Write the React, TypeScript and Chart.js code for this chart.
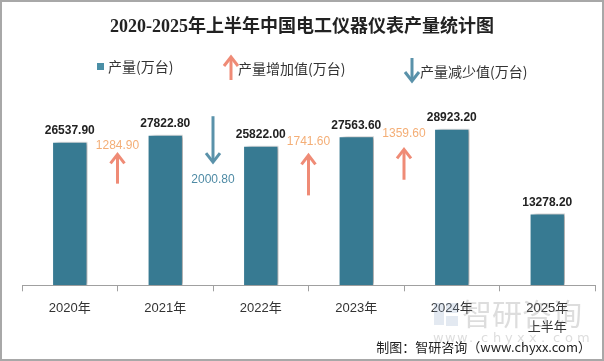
import React, { useEffect, useRef } from "react";
import { Chart, registerables } from "chart.js";

Chart.register(...registerables);

const titleText = "2020-2025年上半年中国电工仪器仪表产量统计图";
const categories: (string | string[])[] = ["2020年", "2021年", "2022年", "2023年", "2024年", ["2025年", "上半年"]];
const production = [26537.9, 27822.8, 25822.0, 27563.6, 28923.2, 13278.2];
// year-over-year changes between consecutive full years (positive = increase)
const changes = [1284.9, -2000.8, 1741.6, 1359.6];
// annotation anchors (data units) for change labels and arrows
const changeLabelAt = [25895, 19570, 26563, 28008];
const arrowStartAt = [18793, 31261, 16624, 19516];
const arrowEndAt = [24214, 22768, 24033, 25117];

const legendLabels = ["产量(万台)", "产量增加值(万台)", "产量减少值(万台)"];
const creditText = "制图：智研咨询（www.chyxx.com）";

const BAR = "#377A92";
const UP = "#EF8B76";
const UP_TEXT = "#F4AE76";
const DOWN = "#5A92AA";
const DOWN_TEXT = "#4F8BA5";

function drawArrow(ctx: CanvasRenderingContext2D, x: number, y0: number, y1: number, color: string, w = 3) {
  const dir = y1 > y0 ? 1 : -1;
  ctx.save();
  ctx.strokeStyle = color;
  ctx.lineWidth = w;
  ctx.lineCap = "butt";
  ctx.beginPath();
  ctx.moveTo(x, y0);
  ctx.lineTo(x, y1 - dir * 1);
  ctx.stroke();
  ctx.beginPath();
  ctx.moveTo(x - 7, y1 - dir * 9);
  ctx.lineTo(x, y1);
  ctx.lineTo(x + 7, y1 - dir * 9);
  ctx.stroke();
  ctx.restore();
}

const decorPlugin = {
  id: "decor",
  beforeDatasetsDraw(chart: any) {
    const ctx = chart.ctx;
    ctx.save();
    ctx.shadowColor = "rgba(0,0,0,0.35)";
    ctx.shadowOffsetX = 4;
    ctx.shadowOffsetY = 0;
    ctx.shadowBlur = 4;
  },
  afterDatasetsDraw(chart: any) {
    const ctx = chart.ctx;
    ctx.restore();
    const meta = chart.getDatasetMeta(0);
    const x = chart.scales.x;
    const y = chart.scales.y;
    ctx.save();
    // value labels
    ctx.font = "bold 12px 'Liberation Sans', Arial, sans-serif";
    ctx.fillStyle = "#222";
    ctx.textAlign = "center";
    ctx.textBaseline = "bottom";
    meta.data.forEach((bar: any, i: number) => {
      ctx.fillText(production[i].toFixed(2), bar.x, bar.y - 5);
    });
    // change arrows between categories
    ctx.font = "12px 'Liberation Sans', Arial, sans-serif";
    ctx.textBaseline = "middle";
    changes.forEach((c, i) => {
      const bx = (x.getPixelForValue(i) + x.getPixelForValue(i + 1)) / 2;
      const up = c >= 0;
      ctx.fillStyle = up ? UP_TEXT : DOWN_TEXT;
      ctx.fillText(Math.abs(c).toFixed(2), bx, y.getPixelForValue(changeLabelAt[i]));
      drawArrow(ctx, bx, y.getPixelForValue(arrowStartAt[i]), y.getPixelForValue(arrowEndAt[i]), up ? UP : DOWN);
    });
    ctx.restore();
  },
  afterDraw(chart: any) {
    const ctx = chart.ctx;
    const W = chart.width;
    const H = chart.height;
    ctx.save();
    // title
    ctx.fillStyle = "#222";
    ctx.textAlign = "center";
    ctx.textBaseline = "middle";
    ctx.font = "bold 18px 'Liberation Serif', 'Noto Sans CJK SC', serif";
    ctx.fillText(titleText, W / 2, 27);
    // legend
    ctx.font = "14px 'Noto Sans CJK SC', sans-serif";
    ctx.textAlign = "left";
    ctx.fillStyle = "#4A8FA6";
    ctx.fillRect(97, 63, 7, 7);
    ctx.fillStyle = "#333";
    ctx.fillText(legendLabels[0], 108, 67);
    drawArrow(ctx, 231, 80, 57, UP, 3);
    ctx.fillStyle = "#333";
    ctx.fillText(legendLabels[1], 238, 69);
    drawArrow(ctx, 412, 58, 81, DOWN, 3);
    ctx.fillStyle = "#333";
    ctx.fillText(legendLabels[2], 420, 72);
    // watermark
    ctx.globalAlpha = 0.25;
    ctx.fillStyle = "#8FA9C6";
    ctx.fillRect(434, 303, 10, 22);
    ctx.fillRect(446, 303, 12, 10);
    ctx.fillRect(446, 316, 12, 10);
    ctx.fillStyle = "#777";
    ctx.font = "30px 'Noto Sans CJK SC', sans-serif";
    ctx.textBaseline = "middle";
    ctx.fillText("智研咨询", 462, 314);
    ctx.font = "13px 'DejaVu Sans', sans-serif";
    const wm = "www.chyxx.com";
    for (let i = 0; i < wm.length; i++) {
      ctx.fillText(wm[i], 433 + i * 12, 339);
    }
    ctx.globalAlpha = 1;
    // credit
    ctx.fillStyle = "#222";
    ctx.textAlign = "right";
    ctx.font = "13px 'Noto Sans CJK SC', sans-serif";
    ctx.fillText(creditText, 591, 347);
    // frame
    ctx.strokeStyle = "#A8A8A8";
    ctx.lineWidth = 2;
    ctx.strokeRect(1, 1, W - 2, H - 2);
    ctx.restore();
  },
};

export default function App() {
  const ref = useRef<HTMLCanvasElement>(null);
  useEffect(() => {
    document.body.style.margin = "0";
    const chart = new Chart(ref.current!, {
      type: "bar",
      data: {
        labels: categories,
        datasets: [
          {
            data: production,
            backgroundColor: BAR,
            borderColor: "#ffffff",
            borderWidth: 1,
            categoryPercentage: 1,
            barPercentage: 0.37,
          },
        ],
      },
      options: {
        responsive: false,
        animation: false,
        layout: { padding: { top: 96, left: 22, right: 9, bottom: 16 } },
        plugins: { legend: { display: false }, tooltip: { enabled: false }, title: { display: false } },
        scales: {
          x: {
            offset: true,
            grid: { offset: true, drawOnChartArea: false, tickLength: 6, color: "#A0A0A0", tickColor: "#A0A0A0" },
            border: { color: "#A0A0A0" },
            ticks: {
              color: "#333",
              padding: 8,
              font: { size: 13, family: "'Liberation Sans', 'Noto Sans CJK SC', sans-serif", lineHeight: 1.45 },
              maxRotation: 0,
            },
          },
          y: { display: false, min: 0, max: 35000 },
        },
      },
      plugins: [decorPlugin],
    });
    return () => chart.destroy();
  }, []);
  return (
    <div style={{ width: 604, height: 361 }}>
      <canvas ref={ref} width={604} height={361} />
    </div>
  );
}
